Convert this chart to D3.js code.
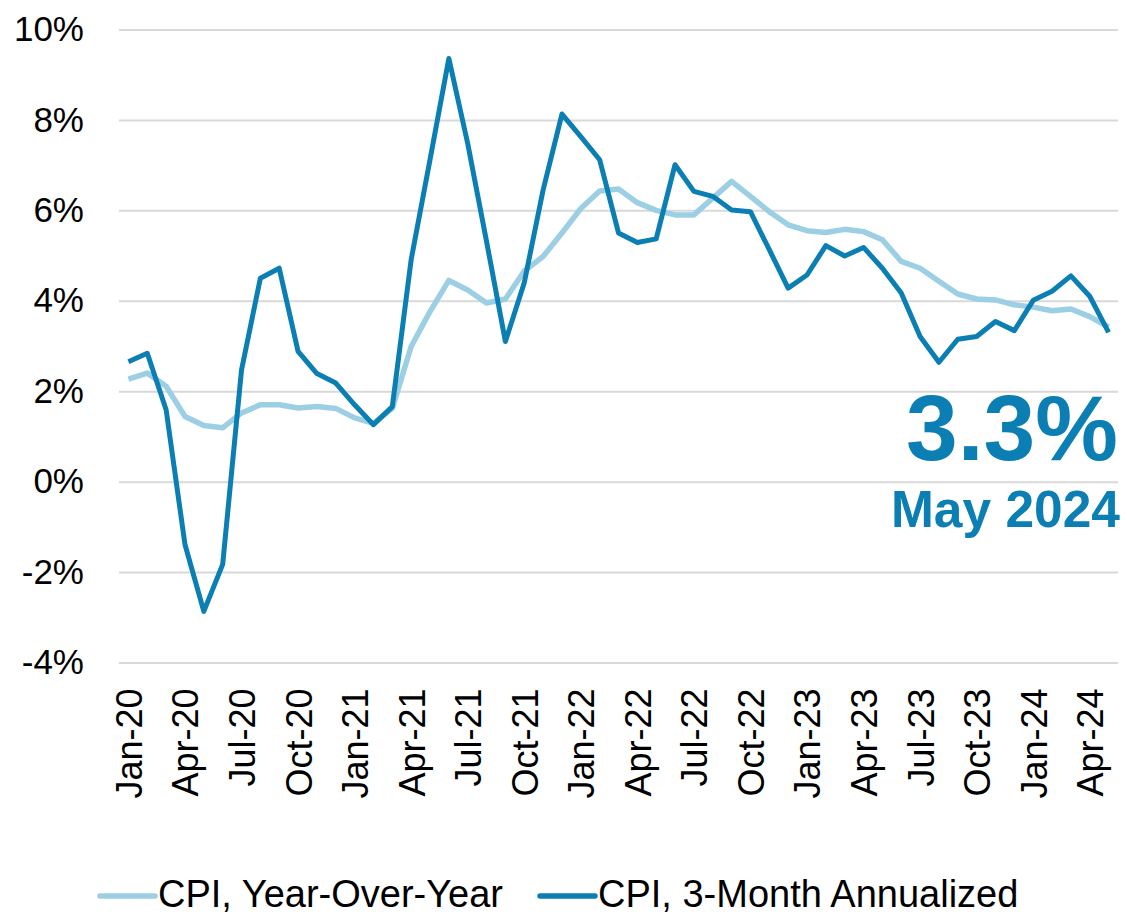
<!DOCTYPE html>
<html>
<head>
<meta charset="utf-8">
<script src="https://cdn.jsdelivr.net/npm/d3@7/dist/d3.min.js"></script>
<style>
  html, body { margin: 0; padding: 0; background: #ffffff; }
  svg { display: block; font-family: "Liberation Sans", Arial, sans-serif; }
</style>
</head>
<body>
<svg id="chart" width="1127" height="918"></svg>
<script>
// ---- data ----
const months = ["Jan-20","Feb-20","Mar-20","Apr-20","May-20","Jun-20","Jul-20","Aug-20","Sep-20","Oct-20","Nov-20","Dec-20",
  "Jan-21","Feb-21","Mar-21","Apr-21","May-21","Jun-21","Jul-21","Aug-21","Sep-21","Oct-21","Nov-21","Dec-21",
  "Jan-22","Feb-22","Mar-22","Apr-22","May-22","Jun-22","Jul-22","Aug-22","Sep-22","Oct-22","Nov-22","Dec-22",
  "Jan-23","Feb-23","Mar-23","Apr-23","May-23","Jun-23","Jul-23","Aug-23","Sep-23","Oct-23","Nov-23","Dec-23",
  "Jan-24","Feb-24","Mar-24","Apr-24","May-24"];

const cpiYoY = [2.27,2.40,2.11,1.44,1.24,1.19,1.52,1.70,1.70,1.63,1.66,1.62,
  1.41,1.29,1.62,2.99,3.76,4.45,4.24,3.95,4.04,4.66,4.98,5.50,
  6.04,6.43,6.47,6.17,6.00,5.90,5.90,6.27,6.64,6.31,5.97,5.68,
  5.55,5.51,5.58,5.53,5.35,4.87,4.72,4.43,4.15,4.04,4.02,3.91,
  3.86,3.78,3.82,3.65,3.42];

const cpi3m = [2.65,2.84,1.59,-1.39,-2.87,-1.83,2.47,4.50,4.72,2.88,2.39,2.18,
  1.70,1.26,1.66,4.91,7.12,9.36,7.48,5.31,3.10,4.40,6.45,8.13,
  7.63,7.12,5.50,5.29,5.37,7.01,6.42,6.31,6.01,5.97,5.13,4.28,
  4.57,5.22,4.99,5.18,4.72,4.17,3.21,2.64,3.15,3.21,3.54,3.34,
  4.01,4.21,4.55,4.10,3.30];

const xTickLabels = ["Jan-20","Apr-20","Jul-20","Oct-20","Jan-21","Apr-21","Jul-21","Oct-21","Jan-22",
  "Apr-22","Jul-22","Oct-22","Jan-23","Apr-23","Jul-23","Oct-23","Jan-24","Apr-24"];
const yTicks = [-4,-2,0,2,4,6,8,10];
const seriesNames = ["CPI, Year-Over-Year","CPI, 3-Month Annualized"];
const latestValue = "3.3%";
const latestLabel = "May 2024";

// ---- styles ----
const DARK = "#0b7fb3";
const LIGHT = "#9dcfe4";
const GRID = "#d9d9d9";

const svg = d3.select("#chart");
const plotLeft = 119, plotRight = 1118, plotTop = 29.5, plotBottom = 662.5;

const x = d3.scalePoint().domain(months).range([plotLeft, plotRight]).padding(0.5);
const y = d3.scaleLinear().domain([-4, 10]).range([plotBottom, plotTop]);

// grid + y axis
const yAxis = d3.axisLeft(y)
  .tickValues(yTicks)
  .tickSize(-(plotRight - plotLeft))
  .tickPadding(35)
  .tickFormat(d => d + "%");
const gy = svg.append("g").attr("transform", `translate(${plotLeft},0)`).call(yAxis);
gy.select(".domain").remove();
gy.selectAll(".tick line").attr("stroke", GRID).attr("stroke-width", 2);
gy.selectAll(".tick text")
  .attr("font-size", 35)
  .attr("fill", "#000")
  .attr("font-family", "Liberation Sans, Arial, sans-serif");

// x axis labels
const xAxis = d3.axisBottom(x).tickValues(xTickLabels).tickSize(0).tickPadding(0);
const gx = svg.append("g").attr("transform", `translate(0,${plotBottom})`).call(xAxis);
gx.select(".domain").remove();
gx.selectAll(".tick text")
  .attr("font-size", 36)
  .attr("fill", "#000")
  .attr("font-family", "Liberation Sans, Arial, sans-serif")
  .attr("text-anchor", "end")
  .attr("transform", "translate(0,26) rotate(-90)")
  .attr("x", 0)
  .attr("y", 0)
  .attr("dy", "0.36em");

// lines
const line = d3.line().x((d, i) => x(months[i])).y(d => y(d)).curve(d3.curveLinear);
svg.append("path").datum(cpiYoY)
  .attr("fill", "none").attr("stroke", LIGHT).attr("stroke-width", 5.5)
  .attr("stroke-linejoin", "round").attr("d", line);
svg.append("path").datum(cpi3m)
  .attr("fill", "none").attr("stroke", DARK).attr("stroke-width", 5)
  .attr("stroke-linejoin", "round").attr("d", line);

// annotation
svg.append("text").attr("x", 1118).attr("y", 460)
  .attr("text-anchor", "end").attr("font-weight", "bold").attr("font-size", 93)
  .attr("fill", DARK).text(latestValue);
svg.append("text").attr("x", 1120).attr("y", 527)
  .attr("text-anchor", "end").attr("font-weight", "bold").attr("font-size", 51.5)
  .attr("fill", DARK).text(latestLabel);

// legend
const legendItems = [
  {name: seriesNames[0], color: LIGHT, x: 100},
  {name: seriesNames[1], color: DARK, x: 540}
];
const lg = svg.append("g");
legendItems.forEach(it => {
  lg.append("line").attr("x1", it.x).attr("x2", it.x + 55).attr("y1", 896).attr("y2", 896)
    .attr("stroke", it.color).attr("stroke-width", 5.5).attr("stroke-linecap", "round");
  lg.append("text").attr("x", it.x + 58).attr("y", 907)
    .attr("font-size", 38).attr("fill", "#000").text(it.name);
});
</script>
</body>
</html>
